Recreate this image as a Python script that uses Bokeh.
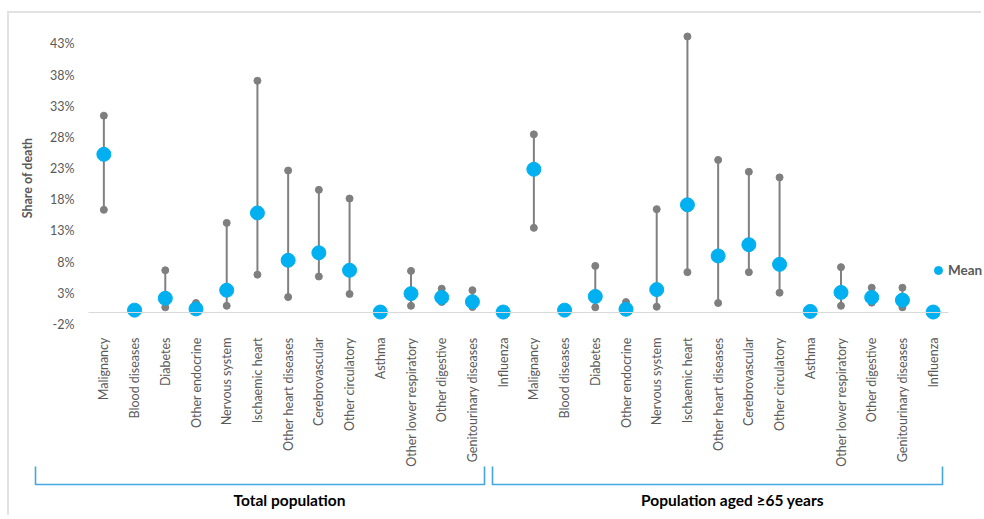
import math
from bokeh.plotting import figure
from bokeh.models import (ColumnDataSource, FixedTicker, NumeralTickFormatter, LinearAxis,
                          Legend, LegendItem, Range1d)
from bokeh.core.properties import value
from bokeh.embed import file_html
from bokeh.resources import INLINE

# ---------------- data (percent) ----------------
causes = ["Malignancy", "Blood diseases", "Diabetes", "Other endocrine", "Nervous system",
          "Ischaemic heart", "Other heart diseases", "Cerebrovascular", "Other circulatory",
          "Asthma", "Other lower respiratory", "Other digestive", "Genitourinary diseases",
          "Influenza"]
groups = ["Total population", "Population aged \u226565 years"]

total_mean = [25.3, 0.3, 2.2, 0.5, 3.5, 15.9, 8.3, 9.5, 6.7, 0.0, 2.95, 2.35, 1.65, 0.0]
total_low = [16.4, 0.3, 0.75, 0.3, 1.0, 6.0, 2.4, 5.7, 2.9, 0.0, 1.0, 1.6, 0.8, 0.0]
total_high = [31.5, 0.3, 6.7, 1.45, 14.3, 37.1, 22.7, 19.6, 18.2, 0.0, 6.6, 3.75, 3.5, 0.0]

old_mean = [22.9, 0.3, 2.5, 0.45, 3.6, 17.2, 9.0, 10.8, 7.65, 0.1, 3.15, 2.35, 1.9, 0.0]
old_low = [13.5, 0.3, 0.75, 0.45, 0.85, 6.4, 1.45, 6.4, 3.1, 0.1, 1.0, 1.5, 0.75, 0.0]
old_high = [28.5, 0.3, 7.4, 1.6, 16.5, 44.2, 24.4, 22.5, 21.6, 0.1, 7.2, 3.9, 3.9, 0.0]

y_ticks = [-2, 3, 8, 13, 18, 23, 28, 33, 38, 43]
y_min, y_max = -2, 45

# ---------------- layout constants (pixels) ----------------
W, H = 974, 504
PLOT_LEFT, PLOT_W = 79, 860          # data area inside the canvas
PLOT_TOP, PLOT_H = 18, 293
FONT = "Lato"
GRAY_TXT = "#595959"
BLUE = "#45A6E2"

# ---------------- build ----------------
labels = causes + causes
n = len(labels)
idx = list(range(n))
mean = [v / 100 for v in total_mean + old_mean]
low = [v / 100 for v in total_low + old_low]
high = [v / 100 for v in total_high + old_high]
src = ColumnDataSource(dict(x=idx, mean=mean, low=low, high=high, label=labels))

# whole canvas is the frame; data area is mapped onto the chosen pixel box
cat_px = PLOT_W / n
x0 = -0.5 - PLOT_LEFT / cat_px
x1 = -0.5 + (W - PLOT_LEFT) / cat_px
val_px = PLOT_H / ((y_max - y_min) / 100)
y1 = y_max / 100 + PLOT_TOP / val_px
y0 = y_min / 100 - (H - PLOT_TOP - PLOT_H) / val_px

def ypix(py):       # pixel row (from canvas top) -> value
    return y1 - py / val_px

def xpix(px):       # pixel column (from canvas left) -> category coordinate
    return x0 + px / cat_px

p = figure(width=W, height=H, output_backend="svg", toolbar_location=None,
           x_range=Range1d(x0, x1), y_range=Range1d(y0, y1),
           x_axis_location=None, y_axis_location=None,
           min_border_left=0, min_border_right=0, min_border_top=0, min_border_bottom=0,
           margin=(11, 0, 0, 7))
p.styles = {"border-top": "2px solid #E2E2E2", "border-left": "2px solid #E2E2E2"}
p.outline_line_color = None
p.xgrid.visible = False
p.ygrid.visible = False

# zero line (axis rule at 0, bounded to the categories)
zero_axis = LinearAxis(fixed_location=0, bounds=(-0.5, n - 0.5),
                       ticker=FixedTicker(ticks=[]), axis_line_color="#D9D9D9",
                       axis_line_width=1.2, major_tick_line_color=None,
                       minor_tick_line_color=None)
p.add_layout(zero_axis, "below")

# y axis
ya = LinearAxis(fixed_location=-0.5, bounds=(y_min / 100, y_max / 100),
                ticker=FixedTicker(ticks=[t / 100 for t in y_ticks]),
                formatter=NumeralTickFormatter(format="0%"),
                axis_line_color=None, major_tick_line_color=None, minor_tick_line_color=None,
                major_label_standoff=8, major_label_text_font=FONT,
                major_label_text_font_size="12.5px", major_label_text_color=GRAY_TXT,
                axis_label="Share of death", axis_label_text_font=FONT,
                axis_label_text_font_size="12.5px", axis_label_text_font_style="bold",
                axis_label_text_color=GRAY_TXT, axis_label_standoff=12)
p.add_layout(ya, "left")

# category axis, at the bottom of the value range
xa = LinearAxis(fixed_location=y_min / 100, bounds=(-0.5, n - 0.5),
                ticker=FixedTicker(ticks=idx),
                major_label_overrides={i: l for i, l in zip(idx, labels)},
                major_label_orientation=math.pi / 2,
                axis_line_color=None, major_tick_line_color=None, minor_tick_line_color=None,
                major_tick_out=0, major_label_standoff=13, major_label_text_font=FONT,
                major_label_text_font_size="12.5px", major_label_text_color=GRAY_TXT)
p.add_layout(xa, "below")

# whiskers and points
p.segment(x0="x", y0="low", x1="x", y1="high", source=src, line_color="#808080", line_width=2)
p.scatter(x="x", y="low", source=src, size=7, color="#7F7F7F")
p.scatter(x="x", y="high", source=src, size=7, color="#7F7F7F")
mean_r = p.scatter(x="x", y="mean", source=src, size=14, color="#00B0F0")

# group brackets and labels (pixel placement of the reference)
br_x = [(26, 475), (483, 933)]
br_top, br_bot, lab_y = 453, 471, 486
group_px = [280, 723]
p.multi_line(xs=[[xpix(a), xpix(a), xpix(b), xpix(b)] for a, b in br_x],
             ys=[[ypix(br_top), ypix(br_bot), ypix(br_bot), ypix(br_top)] for _ in br_x],
             line_color=BLUE, line_width=1.6, line_join="round")
p.text(x=[xpix(g) for g in group_px], y=[ypix(lab_y)] * 2, text=groups,
       text_align="center", text_baseline="middle", text_font=value(FONT),
       text_font_size="15.5px", text_font_style="bold", text_color="#000000")

legend = Legend(items=[LegendItem(label="Mean", renderers=[mean_r])],
                location=(919, H - PLOT_TOP - PLOT_H + 44),
                glyph_width=20, glyph_height=20, label_standoff=0, padding=0, margin=0,
                border_line_color=None, background_fill_alpha=0,
                label_text_font=FONT, label_text_font_size="13.5px",
                label_text_font_style="bold", label_text_color=GRAY_TXT)
p.add_layout(legend)

open("out.html", "w").write(file_html(p, INLINE))
